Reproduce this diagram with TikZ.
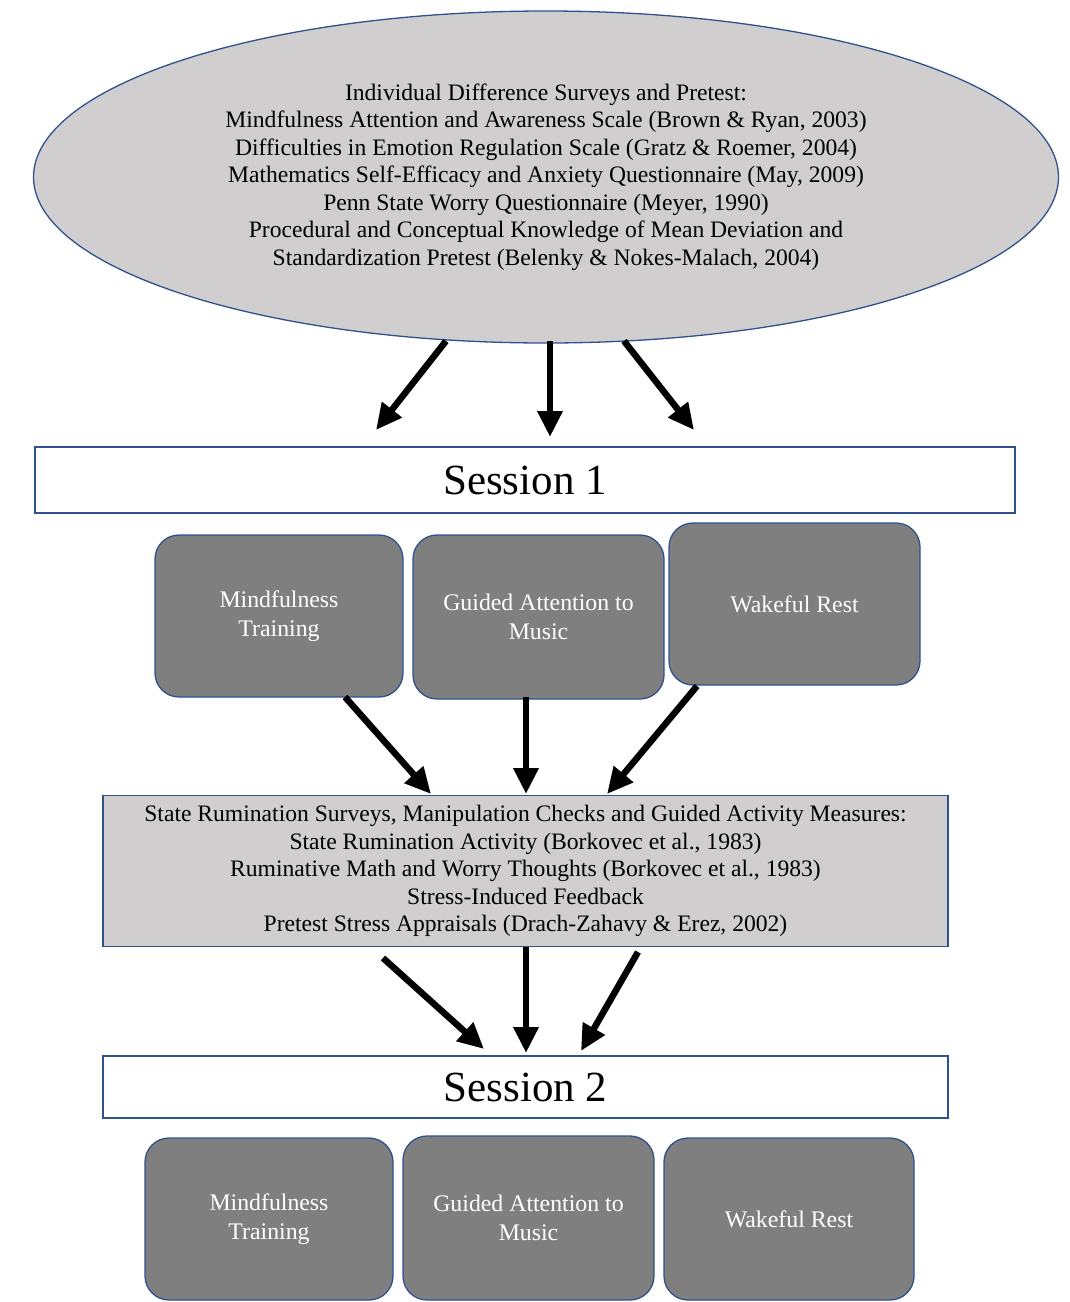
\documentclass[tikz,border=0pt]{standalone}
\usepackage{fontspec}
\setmainfont{Liberation Serif}
\usetikzlibrary{shapes.geometric,arrows.meta}
\definecolor{lgray}{HTML}{D0CECE}
\definecolor{dgray}{HTML}{7F7F7F}
\definecolor{bord}{HTML}{2F528F}
\tikzset{
  arr/.style={line width=6.5pt,-{Triangle[length=26pt,width=24pt]}},
  actbox/.style={draw=bord,line width=1.3pt,fill=dgray,rounded corners=24pt,text=white,
     align=center,font=\fontsize{23.8}{28.5}\selectfont,inner sep=0pt},
  sessbox/.style={draw=bord,line width=1.5pt,fill=white,inner sep=0pt,font=\fontsize{43}{48}\selectfont},
}
\begin{document}
\begin{tikzpicture}[x=1pt,y=-1pt]
\useasboundingbox (0,0) rectangle (1069,1302);
% top ellipse
\node[ellipse,draw=bord,line width=1.3pt,fill=lgray,minimum width=1025pt,minimum height=332pt,
      inner sep=0pt,align=center,font=\fontsize{23.6}{27.5}\selectfont] (ell) at (546,177)
 {Individual Difference Surveys and Pretest:\\
  Mindfulness Attention and Awareness Scale (Brown \& Ryan, 2003)\\
  Difficulties in Emotion Regulation Scale (Gratz \& Roemer, 2004)\\
  Mathematics Self-Efficacy and Anxiety Questionnaire (May, 2009)\\
  Penn State Worry Questionnaire (Meyer, 1990)\\
  Procedural and Conceptual Knowledge of Mean Deviation and\\
  Standardization Pretest (Belenky \& Nokes-Malach, 2004)};
% session 1
\node[sessbox,minimum width=980pt,minimum height=66pt] (s1) at (525,480) {Session 1};
\node[actbox,minimum width=248pt,minimum height=162pt] (m1) at (279,616) {Mindfulness\\Training};
\node[actbox,minimum width=251pt,minimum height=164pt] (g1) at (538.5,617) {Guided Attention to\\Music};
\node[actbox,minimum width=251pt,minimum height=162pt] (w1) at (794.5,604) {Wakeful Rest};
% middle box
\node[draw=bord,line width=1.5pt,fill=lgray,minimum width=845pt,minimum height=151pt,inner sep=0pt,
      align=center,font=\fontsize{23.6}{27.5}\selectfont] (mid) at (525.5,871)
 {State Rumination Surveys, Manipulation Checks and Guided Activity Measures:\\
  State Rumination Activity (Borkovec et al., 1983)\\
  Ruminative Math and Worry Thoughts (Borkovec et al., 1983)\\
  Stress-Induced Feedback\\
  Pretest Stress Appraisals (Drach-Zahavy \& Erez, 2002)};
% session 2
\node[sessbox,minimum width=845pt,minimum height=62pt] (s2) at (525.5,1087) {Session 2};
\node[actbox,minimum width=248pt,minimum height=162pt] (m2) at (269,1219) {Mindfulness\\Training};
\node[actbox,minimum width=251pt,minimum height=164pt] (g2) at (528.5,1218) {Guided Attention to\\Music};
\node[actbox,minimum width=250pt,minimum height=162pt] (w2) at (789,1219) {Wakeful Rest};
% arrow coordinates
\coordinate (a1s) at (446,341); \coordinate (a1e) at (376,430);
\coordinate (a2s) at (550,341); \coordinate (a2e) at (550,437);
\coordinate (a3s) at (624,341); \coordinate (a3e) at (694,430);
\coordinate (b1s) at (345,697); \coordinate (b1e) at (431,794);
\coordinate (b2s) at (526,697); \coordinate (b2e) at (526,794);
\coordinate (b3s) at (697,686); \coordinate (b3e) at (607,794);
\coordinate (c1s) at (383,958); \coordinate (c1e) at (484,1049);
\coordinate (c2s) at (526,947); \coordinate (c2e) at (526,1053);
\coordinate (c3s) at (638,952); \coordinate (c3e) at (581,1051);
\draw[arr] (a1s) -- (a1e);
\draw[arr] (a2s) -- (a2e);
\draw[arr] (a3s) -- (a3e);
\draw[arr] (b1s) -- (b1e);
\draw[arr] (b2s) -- (b2e);
\draw[arr] (b3s) -- (b3e);
\draw[arr] (c1s) -- (c1e);
\draw[arr] (c2s) -- (c2e);
\draw[arr] (c3s) -- (c3e);
\end{tikzpicture}
\end{document}
